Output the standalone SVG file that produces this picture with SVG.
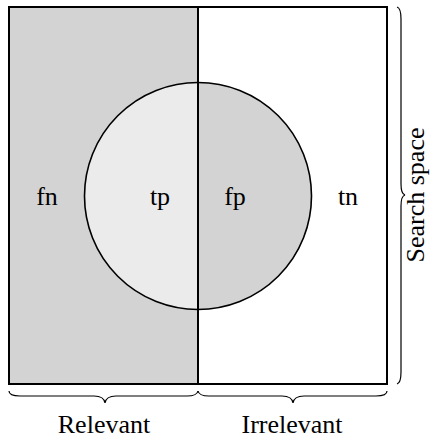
<svg xmlns="http://www.w3.org/2000/svg" width="430" height="438" viewBox="0 0 430 438">
<style>
text{font-family:"Liberation Serif","Times New Roman",serif;font-size:26px;fill:#000;text-anchor:middle}
.brace{fill:none;stroke:#000;stroke-width:1.2}
.edge{stroke:#000;fill:none}
</style>
<rect x="0" y="0" width="430" height="438" fill="#fff"/>
<g id="relevant-region">
<rect x="9" y="7" width="189" height="377" fill="#d3d3d3"/>
</g>
<g id="irrelevant-region">
<rect x="198" y="7" width="189" height="377" fill="#fff"/>
</g>
<g id="tp-region">
<path d="M198,82.5 A113.5,113.5 0 0 0 198,309.5 Z" fill="#ebebeb"/>
</g>
<g id="fp-region">
<path d="M198,82.5 A113.5,113.5 0 0 1 198,309.5 Z" fill="#d3d3d3"/>
</g>
<g id="outlines">
<circle cx="198" cy="196" r="113.5" class="edge" stroke-width="1.6"/>
<rect x="9" y="7" width="378" height="377" class="edge" stroke-width="2"/>
<line x1="198" y1="7" x2="198" y2="384" class="edge" stroke-width="2"/>
</g>
<g id="connectors">
<path class="brace" d="M9,391 Q9,396 20,396 L94,396 Q104,396 105,403 Q106,396 116,396 L187,396 Q197,396 198,391"/>
<path class="brace" d="M198,391 Q199,396 209,396 L282,396 Q292,396 293,403 Q294,396 304,396 L376,396 Q387,396 387,391"/>
<path class="brace" d="M397,7 Q401,8 401,19 L401,184 Q401,194 405,195 Q401,196 401,206 L401,372 Q401,383 397,384"/>
</g>
<g id="labels">
<text x="47" y="205">fn</text>
<text x="160" y="205">tp</text>
<text x="235" y="205">fp</text>
<text x="348" y="205">tn</text>
<text x="104" y="433">Relevant</text>
<text x="292" y="433">Irrelevant</text>
<text x="0" y="0" transform="translate(424,195) rotate(-90)">Search space</text>
</g>
</svg>
